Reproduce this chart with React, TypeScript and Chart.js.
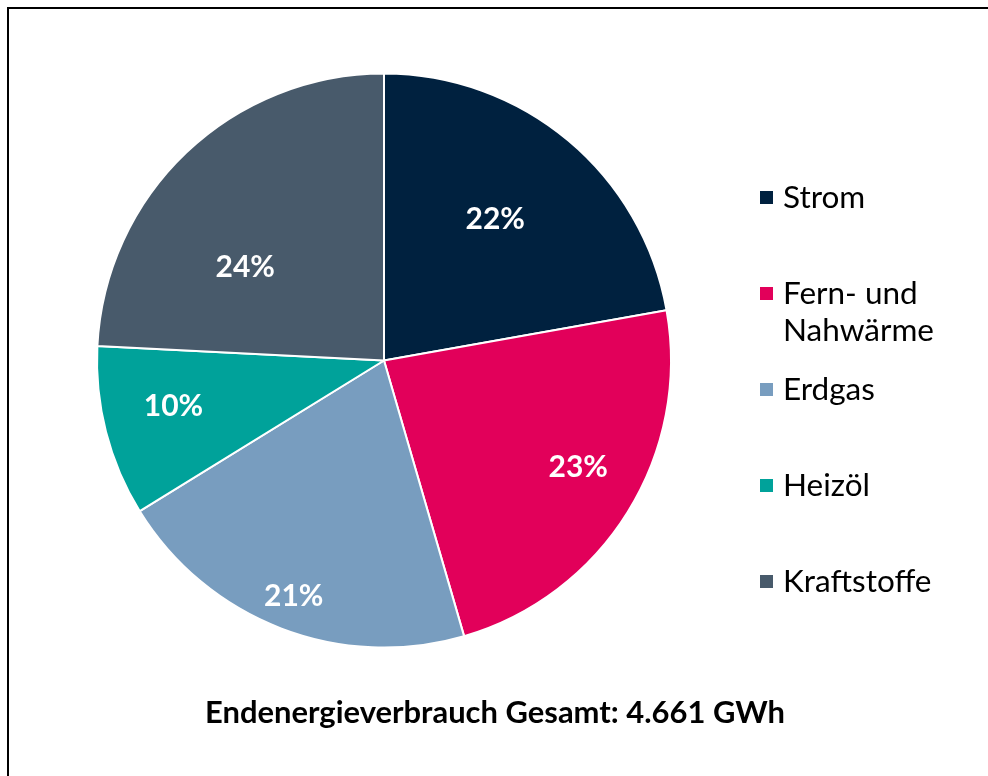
import React, { useEffect, useRef } from "react";
import { Chart, registerables } from "chart.js";

Chart.register(...registerables);

const categories = ["Strom", "Fern- und Nahwärme", "Erdgas", "Heizöl", "Kraftstoffe"];
const shares = [22.2, 23.3, 20.7, 9.6, 24.2];
const colors = ["#00213f", "#e2005a", "#789dbf", "#00a29a", "#485a6b"];
const titleText = "Endenergieverbrauch Gesamt: 4.661 GWh";
// per-slice label placement: distance from centre (fraction of radius) and position along the arc
const labelRadius = [0.63, 0.77, 0.875, 0.75, 0.585];
const labelAlong = [0.475, 0.46, 0.5, 0.57, 0.36];

const W = 988;
const H = 776;

const overlayPlugin = {
  id: "overlay",
  afterDatasetsDraw(chart: any) {
    const ctx = chart.ctx as CanvasRenderingContext2D;
    const meta = chart.getDatasetMeta(0);
    ctx.save();
    // percent labels
    ctx.fillStyle = "#ffffff";
    ctx.font = "bold 30px Lato";
    ctx.textAlign = "center";
    ctx.textBaseline = "alphabetic";
    meta.data.forEach((arc: any, i: number) => {
      const p = arc.getProps(["x", "y", "startAngle", "endAngle", "outerRadius"], true);
      const a = p.startAngle + (p.endAngle - p.startAngle) * labelAlong[i];
      const r = p.outerRadius * labelRadius[i];
      const v = chart.data.datasets[0].data[i];
      ctx.fillText(Math.round(v) + "%", p.x + Math.cos(a) * r, p.y + Math.sin(a) * r + 11);
    });
    // legend
    ctx.font = "31.5px Lato";
    ctx.textAlign = "left";
    const lx = 760;
    const tx = 783;
    const maxW = 175;
    categories.forEach((label, i) => {
      const cy = 197 + i * 96;
      ctx.fillStyle = colors[i];
      ctx.fillRect(lx, cy - 6, 13, 13);
      ctx.fillStyle = "#000000";
      const words = label.split(" ");
      const lines: string[] = [];
      let cur = "";
      words.forEach((w) => {
        const test = cur ? cur + " " + w : w;
        if (ctx.measureText(test).width > maxW && cur) {
          lines.push(cur);
          cur = w;
        } else cur = test;
      });
      lines.push(cur);
      lines.forEach((ln, j) => ctx.fillText(ln, tx, cy + 11 + j * 37));
    });
    // title
    ctx.font = "bold 31px Lato";
    ctx.textAlign = "center";
    ctx.fillStyle = "#000000";
    ctx.fillText(titleText, 495, 723, 580);
    // frame
    ctx.fillRect(7, 7, W, 2);
    ctx.fillRect(7, 7, 2, H);
    ctx.restore();
  },
};

export default function App() {
  const ref = useRef<HTMLCanvasElement | null>(null);
  useEffect(() => {
    if (!ref.current) return;
    const chart = new Chart(ref.current, {
      type: "pie",
      data: {
        labels: categories,
        datasets: [
          {
            data: shares,
            backgroundColor: colors,
            borderColor: "#ffffff",
            borderWidth: 2,
          },
        ],
      },
      options: {
        responsive: false,
        animation: false,
        layout: { padding: { left: 96, right: 316, top: 72, bottom: 127 } },
        plugins: {
          legend: { display: false },
          tooltip: { enabled: false },
        },
      },
      plugins: [overlayPlugin],
    });
    return () => chart.destroy();
  }, []);
  return (
    <div style={{ position: "absolute", left: 0, top: 0, width: W, height: H, background: "#fff" }}>
      <canvas ref={ref} width={W} height={H} style={{ width: W, height: H, display: "block" }} />
    </div>
  );
}
